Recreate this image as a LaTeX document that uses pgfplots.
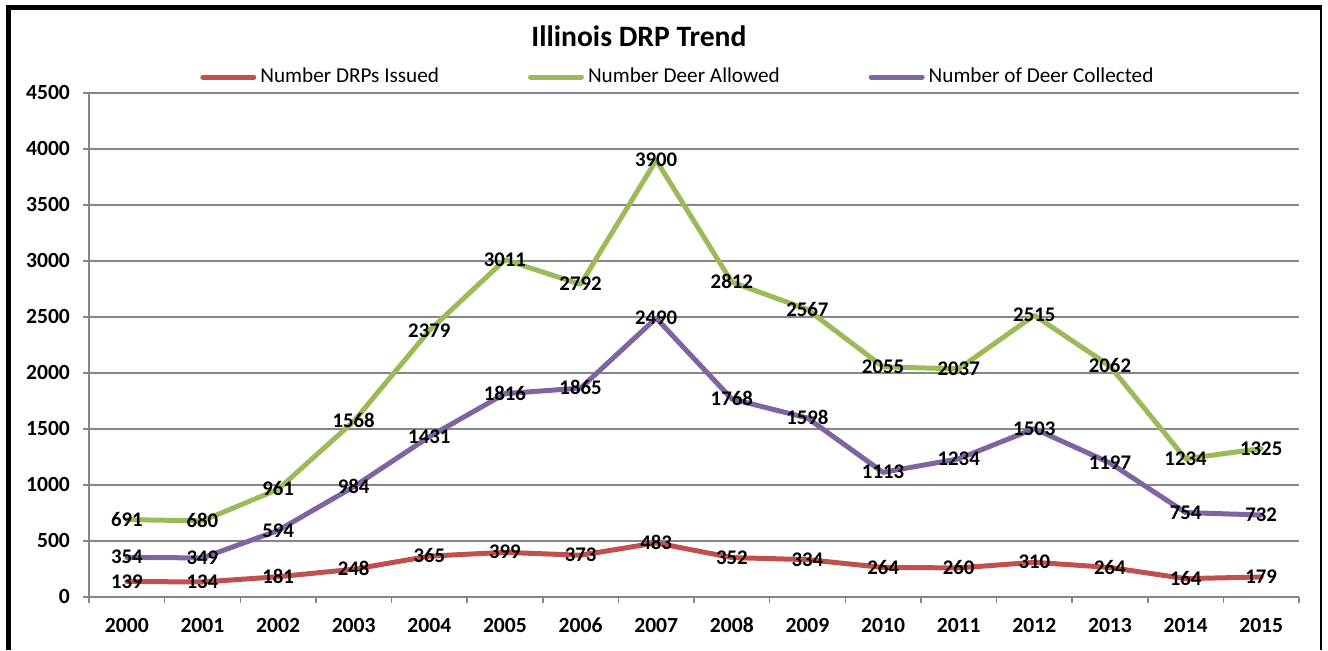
\documentclass[border=0pt]{standalone}
\usepackage{pgfplots}
\pgfplotsset{compat=1.18}
\usepackage{pgfplotstable}
\usepackage{fontspec}
\setmainfont{Carlito}

\definecolor{drpred}{HTML}{C0504D}
\definecolor{deergreen}{HTML}{9BBB59}
\definecolor{deerpurple}{HTML}{8064A2}
\definecolor{gridgray}{HTML}{868686}

% Illinois DRP figures by year
\pgfplotstableread{
idx year issued allowed collected
0  2000 139 691  354
1  2001 134 680  349
2  2002 181 961  594
3  2003 248 1568 984
4  2004 365 2379 1431
5  2005 399 3011 1816
6  2006 373 2792 1865
7  2007 483 3900 2490
8  2008 352 2812 1768
9  2009 334 2567 1598
10 2010 264 2055 1113
11 2011 260 2037 1234
12 2012 310 2515 1503
13 2013 264 2062 1197
14 2014 164 1234 754
15 2015 179 1325 732
}\drpdata

\newcommand{\tickfont}{\fontsize{10.8}{12}\selectfont}
\newcommand{\labelfont}{\fontsize{10.4}{12}\selectfont}
\newcommand{\legendfont}{\fontsize{10.6}{12}\selectfont}

\begin{document}
\begin{tikzpicture}
\useasboundingbox (0,0) rectangle (664pt,-325pt);
% chart frame
\draw[line width=2.5pt] (4.25pt,-325pt) -- (4.25pt,-3.5pt) -- (661pt,-3.5pt);
\draw[line width=0.75pt] (660.5pt,-3.5pt) -- (660.5pt,-325pt);

\begin{axis}[
  at={(44.5pt,-298.5pt)}, anchor=south west,
  scale only axis, width=605pt, height=252pt,
  xmin=-0.5, xmax=15.5, ymin=0, ymax=4500,
  axis x line*=bottom, axis y line*=left,
  axis line style={gridgray, line width=0.75pt, -},
  ytick={0,500,...,4500},
  ymajorgrids, grid style={gridgray, line width=0.75pt},
  xtick={-0.5,0.5,...,15.5}, xticklabels={},
  extra x ticks={0,1,2,3,4,5,6,7,8,9,10,11,12,13,14,15},
  extra x tick labels={2000,2001,2002,2003,2004,2005,2006,2007,2008,2009,2010,2011,2012,2013,2014,2015},
  extra x tick style={major tick length=0pt},
  tick align=outside, major tick length=3pt,
  tick style={gridgray, line width=0.75pt},
  /pgf/number format/assume math mode=true,
  /pgf/number format/1000 sep={},
  ticklabel style={font=\bfseries\tickfont, text height=0.66em, text depth=0pt},
  xticklabel style={yshift=-7.5pt},
  yticklabel style={xshift=-3pt},
  title={Illinois DRP Trend},
  title style={font=\bfseries\fontsize{14.8}{16}\selectfont,
    at={(axis description cs:0.4545,1.0694)}, anchor=base},
  legend columns=3,
  legend style={at={(axis description cs:0.0917,1.0317)}, anchor=west,
    draw=none, fill=none, inner sep=0pt, font=\legendfont,
    /tikz/every even column/.append style={column sep=42.5pt}},
  legend image code/.code={\draw[#1, line cap=round] (1.25pt,0pt) -- (26.75pt,0pt);},
  every node near coord/.append style={anchor=center, font=\bfseries\labelfont,
    text=black, text height=0.66em, text depth=0pt},
]
\addplot[drpred, line width=2.5pt, line join=round, line cap=round]
  table[x=idx, y=issued] {\drpdata};
\addlegendentry{Number DRPs Issued}
\addplot[deergreen, line width=2.5pt, line join=round, line cap=round]
  table[x=idx, y=allowed] {\drpdata};
\addlegendentry{Number Deer Allowed}
\addplot[deerpurple, line width=2.5pt, line join=round, line cap=round]
  table[x=idx, y=collected] {\drpdata};
\addlegendentry{Number of Deer Collected}

% value labels on top of every line
\addplot[draw=none, forget plot, nodes near coords] table[x=idx, y=issued] {\drpdata};
\addplot[draw=none, forget plot, nodes near coords] table[x=idx, y=allowed] {\drpdata};
\addplot[draw=none, forget plot, nodes near coords] table[x=idx, y=collected] {\drpdata};
\end{axis}
\end{tikzpicture}
\end{document}
